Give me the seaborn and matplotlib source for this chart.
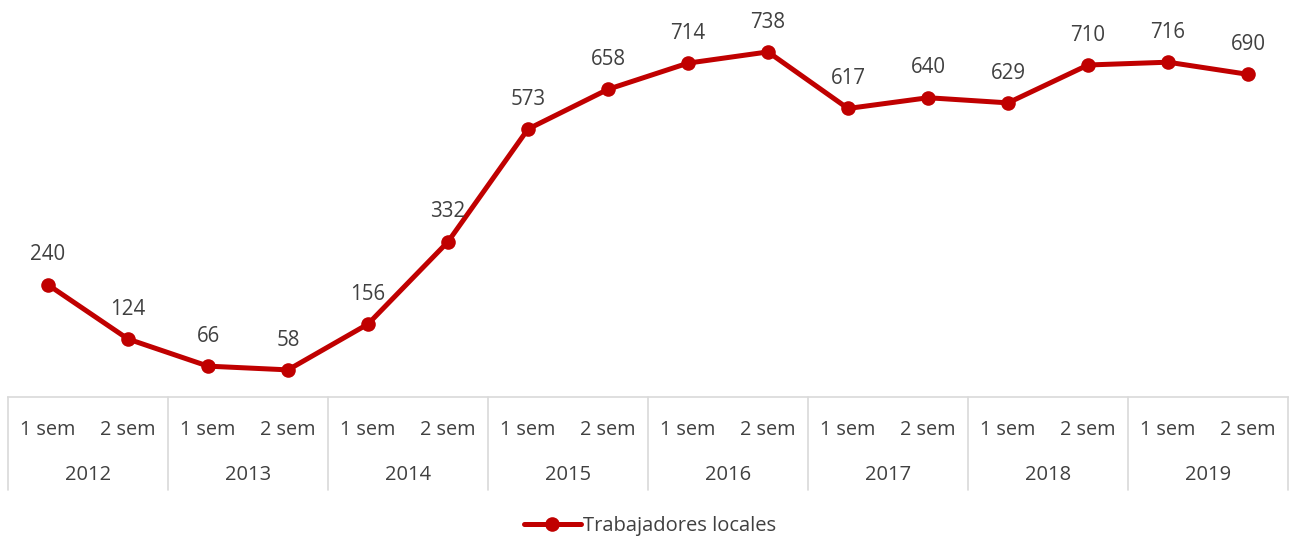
import matplotlib
matplotlib.use("Agg")
import matplotlib.pyplot as plt
import matplotlib.transforms as mtransforms
from matplotlib.lines import Line2D
import seaborn as sns
import pandas as pd
import numpy as np

years = ["2012", "2013", "2014", "2015", "2016", "2017", "2018", "2019"]
semesters = ["1 sem", "2 sem"]
values = [240, 124, 66, 58, 156, 332, 573, 658, 714, 738, 617, 640, 629, 710, 716, 690]
series_name = "Trabajadores locales"

sns.set_theme(style="white")
plt.rcParams["font.family"] = ["Open Sans", "DejaVu Sans"]

W, H = 1292, 537
fig = plt.figure(figsize=(W / 100, H / 100), dpi=100)
ax_left, ax_right = 8, 1288
ax_bottom_px = 397
ax = fig.add_axes([ax_left / W, (H - ax_bottom_px) / H, (ax_right - ax_left) / W, ax_bottom_px / H])

df = pd.DataFrame({
    "pos": np.arange(len(values)),
    "value": values,
    "series": series_name,
})
red = "#C00000"
sns.lineplot(data=df, x="pos", y="value", hue="series", palette=[red], ax=ax,
             linewidth=3.6, marker="o", markersize=10.5, markeredgewidth=0, legend=False)

ax.set_xlim(-0.5, len(values) - 0.5)
ax.set_ylim(0, 849)
ax.set_xticks([])
ax.set_yticks([])
ax.set_xlabel("")
ax.set_ylabel("")
for s in ["top", "left", "right"]:
    ax.spines[s].set_visible(False)
ax.spines["bottom"].set_color("#D9D9D9")
ax.spines["bottom"].set_linewidth(1.2)

txt_color = "#404040"
for i, v in enumerate(values):
    ax.annotate(str(v), (i, v), xytext=(0, 21.5), textcoords="offset points",
                ha="center", va="center", fontsize=14.8, color=txt_color)

# category table below the axis
trans = mtransforms.blended_transform_factory(ax.transData, ax.transAxes)
px = 1 / ax_bottom_px
y_bottom = -(490 - 397) * px
for k in range(len(years) + 1):
    xx = -0.5 + 2 * k
    ax.plot([xx, xx], [0, y_bottom], transform=trans, color="#D9D9D9", lw=1.2, clip_on=False)
for i in range(len(values)):
    ax.text(i, -(430 - 397) * px, semesters[i % 2], transform=trans, ha="center", va="center",
            fontsize=14.3, color=txt_color)
for j, y in enumerate(years):
    ax.text(2 * j + 0.5, -(475 - 397) * px, y, transform=trans, ha="center", va="center",
            fontsize=14.5, color=txt_color)

handle = Line2D([], [], color=red, lw=3.6, marker="o", markersize=10.5, markeredgewidth=0)
fig.legend([handle], [series_name], loc="center", bbox_to_anchor=(650 / W, 1 - 526 / H),
           frameon=False, fontsize=14.5, handlelength=2.8, handletextpad=0.1,
           labelcolor=txt_color)

fig.savefig("out.png", dpi=100)
